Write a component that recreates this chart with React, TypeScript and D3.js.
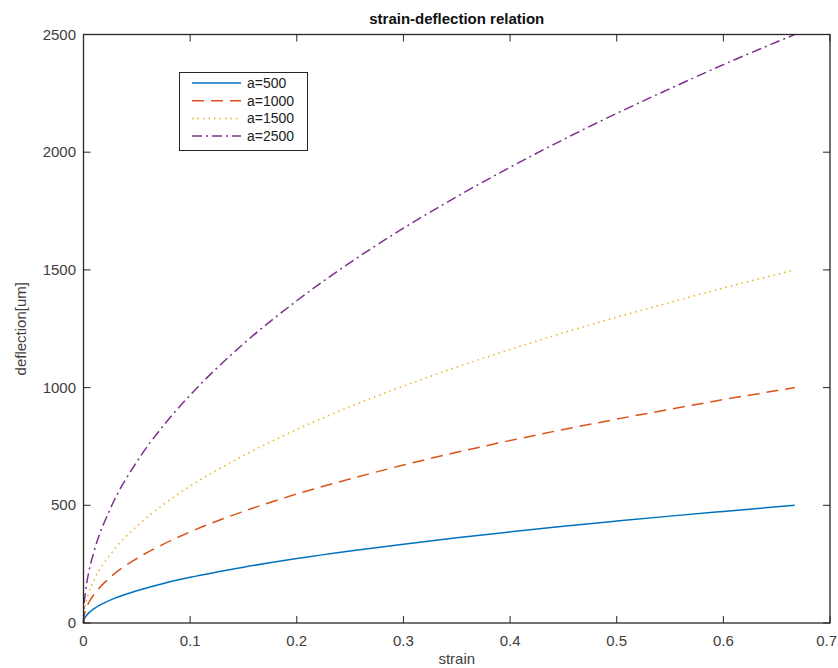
import React from "react";
import * as d3 from "d3";

const strain = [0, 0.0005, 0.002, 0.005, 0.01, 0.025, 0.05, 0.075, 0.1, 0.15, 0.2, 0.25, 0.3, 0.35, 0.4, 0.45, 0.5, 0.55, 0.6, 0.667];
const a500 = [0, 13, 27, 43, 61, 97, 137, 168, 194, 237, 274, 306, 335, 362, 387, 411, 433, 454, 474, 500];
const a1000 = [0, 27, 55, 87, 122, 194, 274, 335, 387, 474, 548, 612, 671, 725, 775, 822, 866, 908, 949, 1000];
const a1500 = [0, 41, 82, 130, 184, 290, 411, 503, 581, 711, 822, 919, 1006, 1087, 1162, 1233, 1299, 1362, 1423, 1500];
const a2500 = [0, 68, 137, 217, 306, 484, 685, 839, 968, 1186, 1369, 1531, 1677, 1811, 1936, 2054, 2165, 2270, 2372, 2500];

const seriesNames = ["a=500", "a=1000", "a=1500", "a=2500"];
const seriesValues = [a500, a1000, a1500, a2500];
const seriesColors = ["#0072BD", "#D95319", "#EDB120", "#7E2F8E"];
const seriesDash = ["none", "12,7", "1.5,4", "10,4,2,4"];

const xTicks = [0, 0.1, 0.2, 0.3, 0.4, 0.5, 0.6, 0.7];
const yTicks = [0, 500, 1000, 1500, 2000, 2500];

const W = 838, H = 668;
const L = 83.5, R = 830, T = 34.5, B = 623;

export default function App() {
  const x = d3.scaleLinear().domain([0, 0.7]).range([L, R]);
  const y = d3.scaleLinear().domain([0, 2500]).range([B, T]);
  const line = d3.line<number>().x((_, i) => x(strain[i])).y((v) => y(v)).curve(d3.curveMonotoneX);
  const font = "'Liberation Sans', Arial, Helvetica, sans-serif";
  const tickLen = 7;
  const legX = 179.5, legY = 72.5, legW = 128, legH = 78;
  return (
    <svg width={W} height={H} style={{ position: "absolute", left: 0, top: 0, background: "#fff" }} fontFamily={font}>
      <rect x={0} y={0} width={W} height={H} fill="#fff" />
      <text x={(L + R) / 2} y={24} textAnchor="middle" fontSize={15} fontWeight="bold" fill="#111">strain-deflection relation</text>
      <g>
        {seriesValues.map((vals, k) => (
          <path key={k} d={line(vals) || ""} fill="none" stroke={seriesColors[k]} strokeWidth={1.5} strokeDasharray={seriesDash[k]} />
        ))}
      </g>
      <rect x={L} y={T} width={R - L} height={B - T} fill="none" stroke="#262626" strokeWidth={1.3} />
      {xTicks.map((t, i) => {
        const last = i === xTicks.length - 1;
        return (
          <g key={"x" + t}>
            <line x1={x(t)} x2={x(t)} y1={B} y2={B - tickLen} stroke="#262626" strokeWidth={1} />
            <line x1={x(t)} x2={x(t)} y1={T} y2={T + tickLen} stroke="#262626" strokeWidth={1} />
            <text x={last ? 837 : x(t)} y={646} textAnchor={last ? "end" : "middle"} fontSize={15} fill="#404040">{t === 0 ? "0" : String(t)}</text>
          </g>
        );
      })}
      {yTicks.map((t) => (
        <g key={"y" + t}>
          <line x1={L} x2={L + tickLen} y1={y(t)} y2={y(t)} stroke="#262626" strokeWidth={1} />
          <line x1={R} x2={R - tickLen} y1={y(t)} y2={y(t)} stroke="#262626" strokeWidth={1} />
          <text x={76} y={y(t) + 5} textAnchor="end" fontSize={15} fill="#404040">{String(t)}</text>
        </g>
      ))}
      <text x={(L + R) / 2} y={664} textAnchor="middle" fontSize={15} fill="#404040">strain</text>
      <text transform={`translate(26,${(T + B) / 2}) rotate(-90)`} textAnchor="middle" fontSize={15} fill="#404040">deflection[um]</text>
      <rect x={legX} y={legY} width={legW} height={legH} fill="#fff" stroke="#262626" strokeWidth={1} />
      {seriesNames.map((n, k) => {
        const ly = 83 + k * 17.7;
        return (
          <g key={n}>
            <line x1={192} x2={241} y1={ly} y2={ly} stroke={seriesColors[k]} strokeWidth={1.5} strokeDasharray={seriesDash[k]} />
            <text x={247} y={ly + 5} fontSize={14} fill="#222">{n}</text>
          </g>
        );
      })}
    </svg>
  );
}
